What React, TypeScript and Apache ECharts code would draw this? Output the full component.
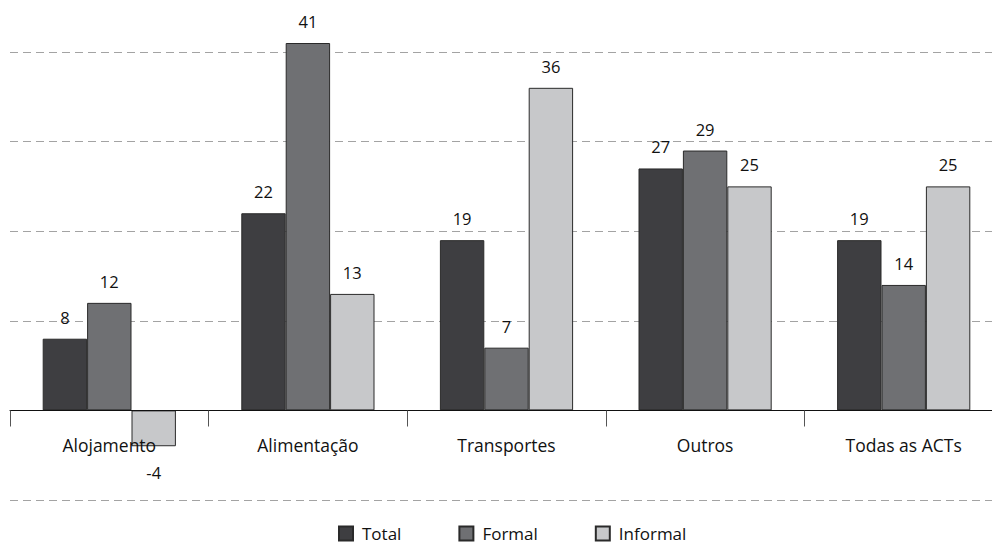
import React, { useEffect, useRef } from "react";
import * as echarts from "echarts";

const categories = ["Alojamento", "Alimentação", "Transportes", "Outros", "Todas as ACTs"];
const totalValues = [8, 22, 19, 27, 19];
const formalValues = [12, 41, 7, 29, 14];
const informalValues = [-4, 13, 36, 25, 25];
const seriesNames = ["Total", "Formal", "Informal"];

const FONT = "'Open Sans', 'Noto Sans', sans-serif";

export default function App() {
  const ref = useRef<HTMLDivElement>(null);
  useEffect(() => {
    document.body.style.margin = "0";
    const chart = echarts.init(ref.current!, undefined, { renderer: "svg" });
    const mkData = (vals: number[]) =>
      vals.map((v) => (v < 0 ? { value: v, label: { position: "bottom", distance: 18 } } : v));
    const colors = ["#3e3e41", "#6f7073", "#c7c8ca"];
    const valueSets = [totalValues, formalValues, informalValues];
    chart.setOption({
      animation: false,
      grid: { left: 10, right: -11, top: 0, bottom: 43, containLabel: false, outerBoundsMode: "none" },
      legend: {
        left: 338,
        top: 525,
        padding: 0,
        itemWidth: 14,
        itemHeight: 14,
        itemGap: 57,
        icon: "rect",
        textStyle: { fontFamily: FONT, fontSize: 17, color: "#111", padding: [0, 0, 0, 4] },
        data: seriesNames,
      },
      xAxis: {
        type: "category",
        data: categories,
        z: 5,
        offset: -89.5,
        axisLine: { show: true, onZero: false, lineStyle: { color: "#111", width: 1 } },
        axisTick: { show: true, length: 16, lineStyle: { color: "#555" } },
        axisLabel: { fontFamily: FONT, fontSize: 17.5, color: "#111", margin: 25 },
      },
      yAxis: {
        type: "value",
        min: -10,
        max: 45.8,
        interval: 10,
        axisLabel: { show: false },
        axisLine: { show: false },
        axisTick: { show: false },
        splitLine: {
          show: true,
          showMaxLine: false,
          lineStyle: { color: "#a3a3a3", type: [8, 5], width: 1 },
        },
      },
      series: seriesNames.map((name, i) => ({
        name,
        type: "bar",
        data: mkData(valueSets[i]),
        barWidth: 44.4,
        barGap: "0%",
        itemStyle: { color: colors[i], borderColor: "#2a2a2a", borderWidth: 1 },
        label: {
          show: true,
          position: "top",
          distance: 13,
          fontFamily: FONT,
          fontSize: 16.5,
          color: "#111",
        },
      })),
    });
    return () => chart.dispose();
  }, []);
  return <div ref={ref} style={{ width: 992, height: 543 }} />;
}
